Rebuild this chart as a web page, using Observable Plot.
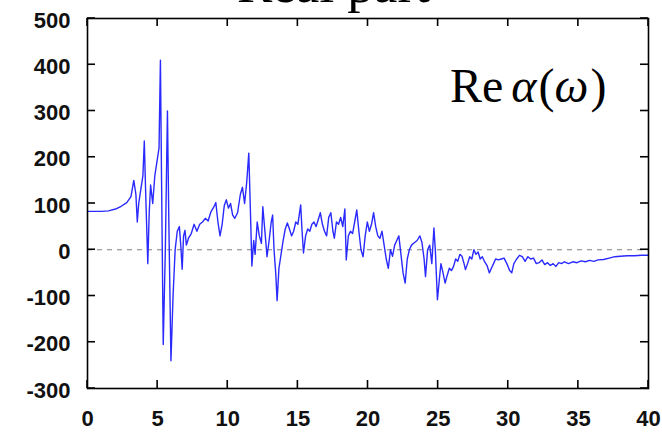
<!DOCTYPE html>
<html>
<head>
<meta charset="utf-8">
<script src="https://cdn.jsdelivr.net/npm/d3@7"></script>
<script src="https://cdn.jsdelivr.net/npm/@observablehq/plot@0.6"></script>
<style>
  html, body { margin: 0; padding: 0; background: #fff; }
</style>
</head>
<body>
<div id="chart"></div>
<script>
const omega = [0,0.5,1.0,1.5,2.0,2.4,2.8,3.1,3.3,3.45,3.55,3.65,3.8,3.95,4.05,4.15,4.3,4.4,4.5,4.65,4.8,4.95,5.1,5.2,5.28,5.4,5.55,5.7,5.8,5.95,6.1,6.25,6.4,6.55,6.65,6.75,6.85,6.95,7.05,7.2,7.4,7.6,7.8,8.0,8.2,8.4,8.6,8.8,9.0,9.15,9.3,9.45,9.6,9.75,9.9,10.05,10.2,10.35,10.5,10.7,10.9,11.05,11.2,11.35,11.5,11.62,11.72,11.85,11.95,12.1,12.25,12.4,12.5,12.65,12.8,12.95,13.1,13.2,13.3,13.42,13.52,13.65,13.8,13.95,14.1,14.25,14.4,14.55,14.7,14.85,15.0,15.2,15.3,15.4,15.55,15.7,15.85,16.0,16.15,16.3,16.45,16.6,16.75,16.9,17.05,17.2,17.35,17.5,17.6,17.75,17.9,18.05,18.2,18.35,18.45,18.6,18.75,18.9,19.05,19.2,19.35,19.5,19.65,19.8,19.95,20.1,20.25,20.4,20.55,20.7,20.85,21.0,21.15,21.3,21.45,21.6,21.75,21.9,22.05,22.2,22.35,22.5,22.65,22.8,22.95,23.1,23.3,23.5,23.7,23.85,24.0,24.1,24.25,24.4,24.55,24.7,24.8,24.95,25.1,25.2,25.35,25.5,25.65,25.8,25.95,26.1,26.25,26.4,26.55,26.7,26.85,26.95,27.1,27.25,27.4,27.55,27.7,27.85,28.0,28.15,28.3,28.5,28.65,28.8,28.95,29.1,29.3,29.5,29.7,29.9,30.1,30.25,30.4,30.6,30.8,31.0,31.2,31.4,31.6,31.8,32.0,32.2,32.4,32.6,32.8,33.0,33.2,33.4,33.6,33.8,34.0,34.3,34.6,34.9,35.2,35.5,35.8,36.1,36.4,36.8,37.2,37.6,38.0,38.5,39.0,39.5,40];
const reAlpha = [83,83,83,84,88,94,102,115,150,120,60,100,130,160,235,120,-30,80,140,100,160,190,220,410,150,-205,0,300,60,-240,-100,0,40,50,10,-42,30,42,10,25,35,55,40,55,60,68,62,82,92,102,60,30,55,95,108,90,100,75,68,80,120,135,100,145,209,80,-35,20,-10,60,30,14,93,40,-15,20,60,75,0,-50,-110,-40,-10,20,45,58,45,30,40,60,55,97,40,-7,30,45,40,55,60,50,65,80,55,40,30,70,80,40,25,60,55,70,50,88,-22,30,40,35,60,86,40,0,-15,30,60,40,55,80,50,30,25,40,10,-20,-40,0,-14,10,20,30,-10,-50,-72,-20,0,10,15,20,30,15,-20,-58,0,10,-30,47,0,-108,-60,-30,-50,-72,-55,-40,-45,-36,-20,-25,-10,-14,-30,-43,-30,-15,-20,0,-10,-5,-20,-15,-25,-35,-50,-40,-30,-20,-22,-20,-18,-30,-45,-50,-30,-20,-12,-15,-25,-15,-20,-18,-30,-28,-22,-32,-28,-34,-30,-36,-28,-30,-26,-30,-26,-28,-24,-26,-23,-25,-22,-21,-18,-15,-14,-13,-13,-12,-12];
const xTicks = [0,5,10,15,20,25,30,35,40];
const yTicks = [-300,-200,-100,0,100,200,300,400,500];
const titleText = "Real part";

const data = omega.map((w, i) => ({w, v: reAlpha[i]}));

const W = 662, H = 432, ML = 87, MR = 14, MT = 18, MB = 44;
const TL = 8;

const labelFont = "'Liberation Sans Narrow', 'Liberation Sans', Arial, sans-serif";
const fmt = d => String(d);

const svg = Plot.plot({
  width: W,
  height: H,
  marginLeft: ML,
  marginRight: MR,
  marginTop: MT,
  marginBottom: MB,
  style: {background: "#fff"},
  x: {domain: [0, 40]},
  y: {domain: [-300, 500]},
  marks: [
    Plot.ruleY([0], {stroke: "#808080", strokeWidth: 1.2, strokeDasharray: "5,5"}),
    Plot.line(data, {x: "w", y: "v", stroke: "#2a2aff", strokeWidth: 1.4}),
    Plot.frame({stroke: "#000", strokeWidth: 1.6}),
    Plot.axisX(xTicks, {anchor: "bottom", tickSize: 0, tickPadding: 22, tickFormat: fmt, label: null, fontSize: 22, fontWeight: "bold", fontFamily: labelFont, fill: "#111"}),
    Plot.axisY(yTicks, {anchor: "left", tickSize: 0, tickPadding: 17, tickFormat: fmt, label: null, fontSize: 22, fontWeight: "bold", fontFamily: labelFont, fill: "#111", dy: 2})
  ]
});

// inward ticks on all four sides, placed through the chart's own scales
const sx = svg.scale("x"), sy = svg.scale("y");
const sel = d3.select(svg);
const tickG = sel.append("g").attr("stroke", "#000").attr("stroke-width", 1.6);
const fTop = MT, fBottom = H - MB, fLeft = ML, fRight = W - MR;
xTicks.forEach(v => {
  const px = sx.apply(v);
  tickG.append("line").attr("x1", px).attr("x2", px).attr("y1", fBottom).attr("y2", fBottom - TL);
  tickG.append("line").attr("x1", px).attr("x2", px).attr("y1", fTop).attr("y2", fTop + TL);
});
yTicks.forEach(v => {
  const py = sy.apply(v);
  tickG.append("line").attr("y1", py).attr("y2", py).attr("x1", fLeft).attr("x2", fLeft + TL);
  tickG.append("line").attr("y1", py).attr("y2", py).attr("x1", fRight).attr("x2", fRight - TL);
});

sel.append("text")
  .attr("x", 237).attr("y", 2)
  .attr("text-anchor", "start")
  .attr("font-family", "'Liberation Serif', 'Times New Roman', serif")
  .attr("font-size", 53)
  .attr("fill", "#000")
  .text(titleText);

const ann = sel.append("text")
  .attr("x", 450).attr("y", 102)
  .attr("text-anchor", "start")
  .attr("font-family", "'Liberation Serif', 'Times New Roman', serif")
  .attr("font-size", 48)
  .attr("fill", "#000");
ann.append("tspan").text("Re");
ann.append("tspan").attr("dx", 8).attr("font-style", "italic").text("α");
ann.append("tspan").attr("dx", 2).text("(");
ann.append("tspan").attr("font-style", "italic").text("ω");
ann.append("tspan").attr("dx", 2).text(")");

document.getElementById("chart").appendChild(svg);
</script>
</body>
</html>
